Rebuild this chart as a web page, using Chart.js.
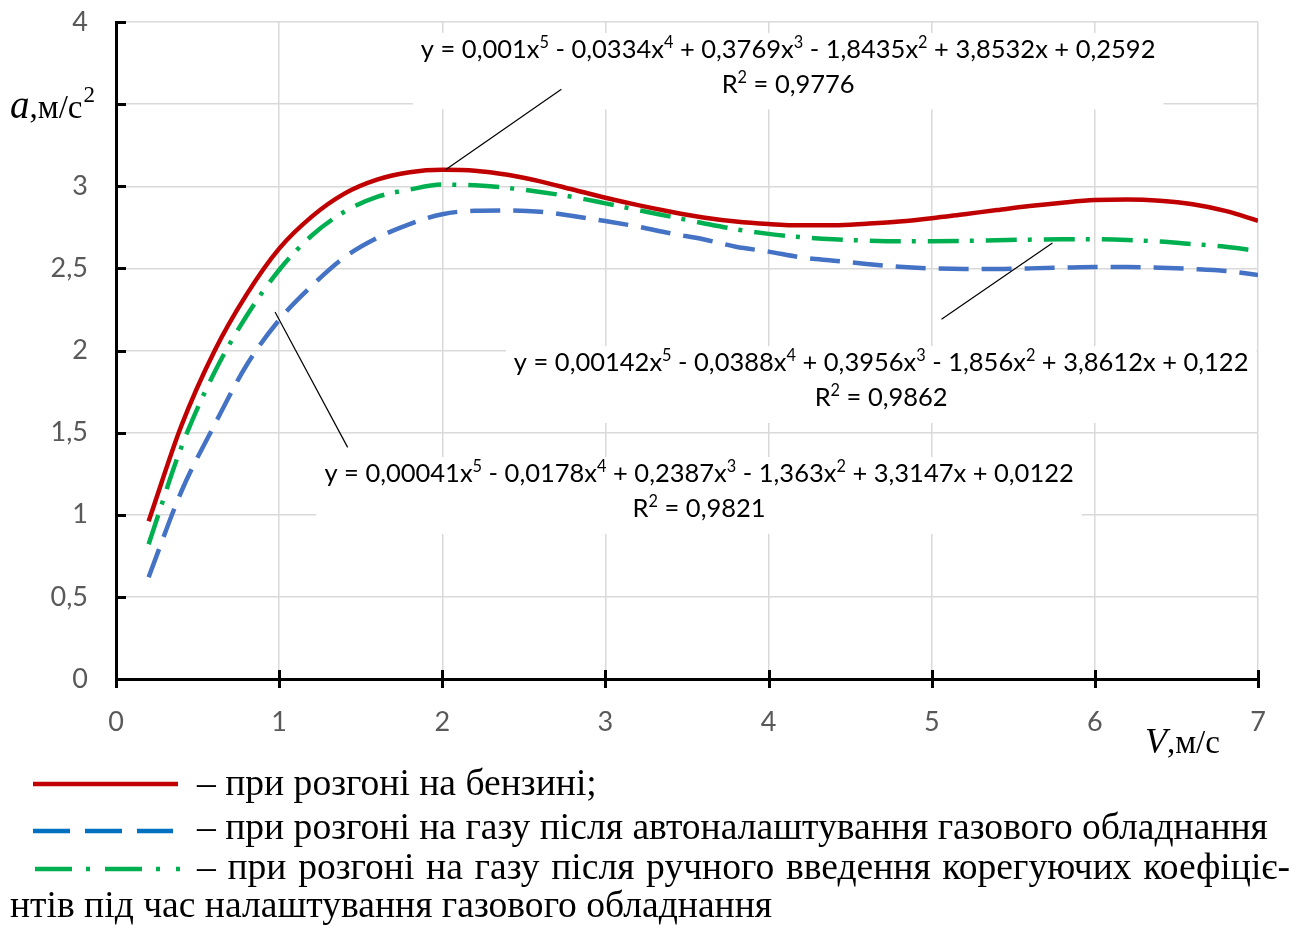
<!DOCTYPE html>
<html>
<head>
<meta charset="utf-8">
<script src="https://cdn.jsdelivr.net/npm/chart.js@4/dist/chart.umd.min.js"></script>
<style>
  html, body { margin: 0; padding: 0; background: #fff; }
  #wrap { width: 1296px; height: 930px; }
</style>
</head>
<body>
<div id="wrap"><canvas id="accelChart" width="1296" height="930"></canvas></div>
<script>
// швидкість, м/с
var speeds = [0.2, 0.4, 0.6, 0.8, 1.0, 1.2, 1.4, 1.6, 1.8, 2.0, 2.2, 2.4, 2.6, 2.8, 3.0, 3.2, 3.4,
  3.6, 3.8, 4.0, 4.2, 4.4, 4.6, 4.8, 5.0, 5.2, 5.4, 5.6, 5.8, 6.0, 6.2, 6.4, 6.6, 6.8, 7.0];

// прискорення на бензині
var accelPetrol = [0.96, 1.54, 1.99, 2.34, 2.62, 2.815, 2.955, 3.04, 3.085, 3.10, 3.095, 3.07, 3.03,
  2.98, 2.93, 2.885, 2.845, 2.81, 2.785, 2.77, 2.762, 2.762, 2.772, 2.785, 2.805, 2.83, 2.855, 2.88,
  2.90, 2.916, 2.92, 2.912, 2.89, 2.85, 2.79];

// газ після автоналаштування
var accelGasAuto = [0.62, 1.14, 1.54, 1.91, 2.186, 2.393, 2.567, 2.685, 2.77, 2.83, 2.851, 2.853, 2.845,
  2.819, 2.788, 2.754, 2.713, 2.677, 2.632, 2.602, 2.567, 2.547, 2.527, 2.51, 2.50, 2.496, 2.496, 2.50,
  2.504, 2.508, 2.508, 2.504, 2.496, 2.484, 2.46];

// газ після ручного введення коефіцієнтів
var accelGasManual = [0.82, 1.41, 1.86, 2.21, 2.49, 2.70, 2.845, 2.935, 2.98, 3.01, 3.006, 2.99, 2.965,
  2.935, 2.896, 2.855, 2.815, 2.775, 2.738, 2.71, 2.69, 2.677, 2.669, 2.665, 2.665, 2.667, 2.671, 2.675,
  2.677, 2.677, 2.673, 2.663, 2.648, 2.632, 2.606];

var xTicks = [0, 1, 2, 3, 4, 5, 6, 7];
var yTicks = [0, 0.5, 1, 1.5, 2, 2.5, 3, 3.5, 4];
var yHiddenLabel = 3.5; // там стоїть підпис осі

// рівняння трендів: текст, центр (x, y) у одиницях графіка
var trendLabels = [
  { lines: ['y = 0,001x^5 - 0,0334x^4 + 0,3769x^3 - 1,8435x^2 + 3,8532x + 0,2592', 'R^2 = 0,9776'],
    cx: 4.12, cy: [3.83, 3.62], lead: [[2.02, 3.10], [2.73, 3.59]] },
  { lines: ['y = 0,00142x^5 - 0,0388x^4 + 0,3956x^3 - 1,856x^2 + 3,8612x + 0,122', 'R^2 = 0,9862'],
    cx: 4.69, cy: [1.924, 1.711], lead: [[5.74, 2.655], [5.06, 2.19]] },
  { lines: ['y = 0,00041x^5 - 0,0178x^4 + 0,2387x^3 - 1,363x^2 + 3,3147x + 0,0122', 'R^2 = 0,9821'],
    cx: 3.574, cy: [1.248, 1.035], lead: [[0.975, 2.234], [1.42, 1.41]] }
];

var legendTexts = [
  '– при розгоні на бензині;',
  '– при розгоні на газу після автоналаштування газового обладнання',
  '– при розгоні на газу після ручного введення корегуючих коефіціє-',
  'нтів під час налаштування газового обладнання'
];

function toPoints(ys) {
  return ys.map(function (y, i) { return { x: speeds[i], y: y }; });
}

var EQ_FONT = 'Lato, "Open Sans", sans-serif';
var SERIF = '"Liberation Serif", "Times New Roman", serif';

// текст із верхніми індексами (^цифра)
function richParts(str) {
  var parts = [];
  var re = /\^(\d)/g, last = 0, m;
  while ((m = re.exec(str)) !== null) {
    parts.push({ t: str.slice(last, m.index), sup: false });
    parts.push({ t: m[1], sup: true });
    last = re.lastIndex;
  }
  parts.push({ t: str.slice(last), sup: false });
  return parts;
}

function richWidth(ctx, str, size) {
  var w = 0;
  richParts(str).forEach(function (p) {
    ctx.font = (p.sup ? size * 0.64 : size) + 'px ' + EQ_FONT;
    w += ctx.measureText(p.t).width;
  });
  return w;
}

function drawRich(ctx, str, cx, cy, size) {
  var w = richWidth(ctx, str, size);
  var x = cx - w / 2;
  ctx.textBaseline = 'middle';
  ctx.textAlign = 'left';
  richParts(str).forEach(function (p) {
    ctx.font = (p.sup ? size * 0.64 : size) + 'px ' + EQ_FONT;
    ctx.fillText(p.t, x, p.sup ? cy - size * 0.28 : cy);
    x += ctx.measureText(p.t).width;
  });
  return w;
}

var EQ_SIZE = 25.5;

var decorPlugin = {
  id: 'decor',
  beforeDatasetsDraw: function (chart) {
    var ctx = chart.ctx, xs = chart.scales.x, ys = chart.scales.y;
    ctx.save();
    ctx.fillStyle = '#fff';
    trendLabels.forEach(function (lb) {
      var w = richWidth(ctx, lb.lines[0], EQ_SIZE);
      var cx = xs.getPixelForValue(lb.cx);
      var y1 = ys.getPixelForValue(lb.cy[0]);
      var y2 = ys.getPixelForValue(lb.cy[1]);
      ctx.fillRect(cx - w / 2 - 8, y1 - 17, w + 16, y2 - y1 + 42);
    });
    ctx.restore();
  },
  afterDraw: function (chart) {
    var ctx = chart.ctx, xs = chart.scales.x, ys = chart.scales.y;
    var area = chart.chartArea;
    ctx.save();

    // засічки осей
    ctx.strokeStyle = '#000';
    ctx.lineWidth = 3;
    ctx.beginPath();
    yTicks.forEach(function (v) {
      var py = Math.round(ys.getPixelForValue(v)) + 0.5;
      ctx.moveTo(area.left, py);
      ctx.lineTo(area.left + 10, py);
    });
    xTicks.forEach(function (v) {
      var px = Math.round(xs.getPixelForValue(v)) + 0.5;
      ctx.moveTo(px, area.bottom - 9);
      ctx.lineTo(px, area.bottom + 9);
    });
    ctx.stroke();

    // виносні лінії
    ctx.lineWidth = 1.2;
    trendLabels.forEach(function (lb) {
      ctx.beginPath();
      ctx.moveTo(xs.getPixelForValue(lb.lead[0][0]), ys.getPixelForValue(lb.lead[0][1]));
      ctx.lineTo(xs.getPixelForValue(lb.lead[1][0]), ys.getPixelForValue(lb.lead[1][1]));
      ctx.stroke();
    });

    // рівняння
    ctx.fillStyle = '#000';
    trendLabels.forEach(function (lb) {
      var cx = xs.getPixelForValue(lb.cx);
      lb.lines.forEach(function (line, i) {
        drawRich(ctx, line, cx, ys.getPixelForValue(lb.cy[i]), EQ_SIZE);
      });
    });

    // підписи осей
    ctx.textBaseline = 'alphabetic';
    ctx.textAlign = 'left';
    var x = 10;
    ctx.font = 'italic 39px ' + SERIF;
    ctx.fillText('a', x, 118);
    x += ctx.measureText('a').width;
    ctx.font = '33px ' + SERIF;
    ctx.fillText(',м/с', x, 118);
    x += ctx.measureText(',м/с').width;
    ctx.font = '23px ' + SERIF;
    ctx.fillText('2', x + 1, 102);

    x = 1145;
    ctx.font = 'italic 36px ' + SERIF;
    ctx.fillText('V', x, 753);
    x += ctx.measureText('V').width;
    ctx.font = '33px ' + SERIF;
    ctx.fillText(',м/с', x, 753);

    // легенда
    ctx.lineWidth = 4.5;
    ctx.lineCap = 'butt';
    ctx.strokeStyle = '#c00000';
    ctx.setLineDash([]);
    ctx.beginPath(); ctx.moveTo(33, 784); ctx.lineTo(178, 784); ctx.stroke();
    ctx.strokeStyle = '#0070c0';
    ctx.setLineDash([37, 15]);
    ctx.beginPath(); ctx.moveTo(33, 831); ctx.lineTo(173, 831); ctx.stroke();
    ctx.strokeStyle = '#00b050';
    ctx.setLineDash([37, 14, 4, 15, 37, 14, 4, 16, 4, 100]);
    ctx.beginPath(); ctx.moveTo(35, 869); ctx.lineTo(182, 869); ctx.stroke();
    ctx.setLineDash([]);

    ctx.fillStyle = '#000';
    ctx.font = '30px ' + SERIF;
    var w2 = ctx.measureText(legendTexts[1]).width;
    var lsize = 30 * (1268 - 197) / w2;
    ctx.font = lsize + 'px ' + SERIF;
    ctx.fillText(legendTexts[0], 197, 795);
    ctx.fillText(legendTexts[1], 197, 839);
    // вирівнювання по ширині
    var words = legendTexts[2].split(' ');
    var wordsW = 0;
    words.forEach(function (wd) { wordsW += ctx.measureText(wd).width; });
    var gap = (1290 - 197 - wordsW) / (words.length - 1);
    var wx = 197;
    words.forEach(function (wd) {
      ctx.fillText(wd, wx, 879);
      wx += ctx.measureText(wd).width + gap;
    });
    ctx.fillText(legendTexts[3], 10, 917);
    ctx.restore();
  }
};

new Chart(document.getElementById('accelChart'), {
  type: 'line',
  data: {
    datasets: [
      { label: 'бензин', data: toPoints(accelPetrol), borderColor: '#c00000', borderWidth: 4.5,
        pointRadius: 0, fill: false, cubicInterpolationMode: 'monotone' },
      { label: 'газ авто', data: toPoints(accelGasAuto), borderColor: '#4472c4', borderWidth: 4.5,
        borderDash: [30, 13], pointRadius: 0, fill: false, cubicInterpolationMode: 'monotone' },
      { label: 'газ ручне', data: toPoints(accelGasManual), borderColor: '#00b050', borderWidth: 4.5,
        borderDash: [31, 11, 4, 12], pointRadius: 0, fill: false, cubicInterpolationMode: 'monotone' }
    ]
  },
  options: {
    responsive: false,
    animation: false,
    events: [],
    layout: { padding: { left: 0, right: 38, top: 22, bottom: 0 } },
    plugins: { legend: { display: false }, tooltip: { enabled: false } },
    scales: {
      x: {
        type: 'linear', min: 0, max: 7,
        afterBuildTicks: function (s) { s.ticks = xTicks.map(function (v) { return { value: v }; }); },
        afterFit: function (s) { s.height = 251; },
        grid: { color: '#d9d9d9', lineWidth: 1.5, drawTicks: false },
        border: { color: '#000', width: 3 },
        ticks: { color: '#595959', padding: 27, font: { family: EQ_FONT, size: 27 } }
      },
      y: {
        min: 0, max: 4,
        afterBuildTicks: function (s) { s.ticks = yTicks.map(function (v) { return { value: v }; }); },
        afterFit: function (s) { s.width = 116; s.paddingTop = 0; },
        grid: { color: '#d9d9d9', lineWidth: 1.5, drawTicks: false },
        border: { color: '#000', width: 3 },
        ticks: {
          color: '#595959', padding: 28, font: { family: EQ_FONT, size: 27 },
          callback: function (v) { return v === yHiddenLabel ? '' : String(v).replace('.', ','); }
        }
      }
    }
  },
  plugins: [decorPlugin]
});
</script>
</body>
</html>
